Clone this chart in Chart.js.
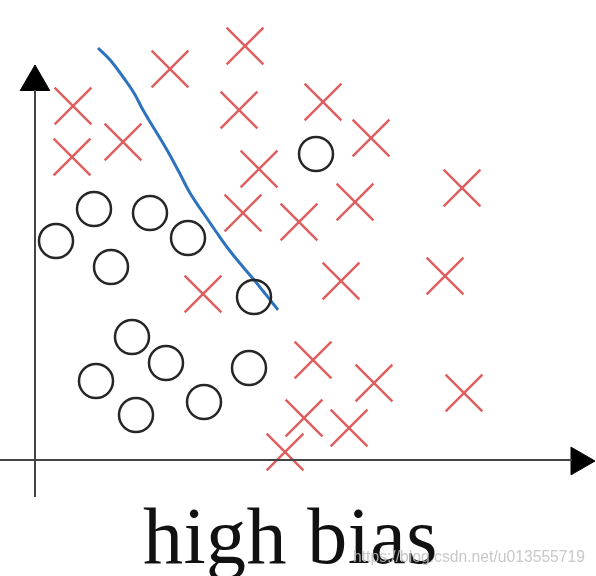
<!DOCTYPE html>
<html>
<head>
<meta charset="utf-8">
<script src="https://cdn.jsdelivr.net/npm/chart.js@4.4.0/dist/chart.umd.min.js"></script>
<style>
  html, body { margin: 0; padding: 0; background: #fff; }
  #wrap { position: relative; width: 596px; height: 576px; overflow: hidden; }
  #c { position: absolute; left: 0; top: 0; }
  #caption { position: absolute; left: 143px; top: 496px; font-family: "Liberation Serif", "DejaVu Serif", serif; font-size: 80px; line-height: 80px; color: #111; white-space: nowrap; letter-spacing: 0.4px; }
  #mark { position: absolute; left: 353px; top: 549px; font-family: "Liberation Sans", Arial, sans-serif; font-size: 15.7px; line-height: 15.7px; color: rgba(190,190,190,0.85); white-space: nowrap; }
</style>
</head>
<body>
<div id="wrap">
  <canvas id="c" width="596" height="576"></canvas>
  <div id="caption">high bias</div>
  <div id="mark">https://blog.csdn.net/u013555719</div>
</div>
<script>
// Positive class (red crosses)
const crossX = [73, 170, 245, 239, 323, 371, 123, 72, 259, 462, 355, 243, 299, 203, 341, 445, 313, 374, 464, 304, 349, 285];
const crossY = [106, 69, 46, 110, 102, 138, 142, 157, 169, 188, 202, 213, 222, 294, 281, 276, 360, 383, 393, 418, 428, 452];
// Negative class (black circles)
const circleX = [56, 94, 150, 188, 111, 254, 316, 132, 166, 96, 136, 204, 249];
const circleY = [241, 209, 213, 238, 267, 297, 154, 337, 363, 381, 415, 402, 368];
// Decision boundary (blue curve)
const curveX = [98, 111, 123, 134, 143, 155, 167, 179, 190, 204, 217, 230, 243, 255, 263, 271, 278];
const curveY = [48, 61, 77, 93, 110, 130, 150, 172, 193, 214, 233, 251, 267, 281, 291, 301, 310];
// Axes
const yAxisX = [35, 35];
const yAxisY = [90, 497];
const xAxisX = [0, 572];
const xAxisY = [460, 460];
const arrowUp = { x: 35, y: 82 };
const arrowRight = { x: 579, y: 461 };

const zip = (xs, ys) => xs.map((x, i) => ({ x, y: ys[i] }));

new Chart(document.getElementById('c'), {
  type: 'scatter',
  data: {
    datasets: [
      { data: zip(yAxisX, yAxisY), showLine: true, borderColor: '#444', borderWidth: 2, pointRadius: 0 },
      { data: zip(xAxisX, xAxisY), showLine: true, borderColor: '#444', borderWidth: 2, pointRadius: 0 },
      { data: [arrowUp], pointStyle: 'triangle', pointRadius: 17, rotation: 0, backgroundColor: '#000', borderColor: '#000', borderWidth: 1 },
      { data: [arrowRight], pointStyle: 'triangle', pointRadius: 16, rotation: 90, backgroundColor: '#000', borderColor: '#000', borderWidth: 1 },
      { data: zip(crossX, crossY), pointStyle: 'crossRot', pointRadius: 26, borderColor: '#de5f5f', borderWidth: 2.5, backgroundColor: 'transparent' },
      { data: zip(circleX, circleY), pointStyle: 'circle', pointRadius: 17, borderColor: '#262626', borderWidth: 2.5, backgroundColor: 'transparent' },
      { data: zip(curveX, curveY), showLine: true, tension: 0.4, borderColor: '#2d72bd', borderWidth: 3, pointRadius: 0 }
    ]
  },
  options: {
    responsive: false,
    animation: false,
    devicePixelRatio: 1,
    layout: { padding: 0, autoPadding: false },
    plugins: { legend: { display: false }, tooltip: { enabled: false }, title: { display: false } },
    scales: {
      x: { type: 'linear', min: 0, max: 596, display: false },
      y: { type: 'linear', min: 0, max: 576, reverse: true, display: false }
    },
    elements: { point: { hoverRadius: 0 } }
  }
});
</script>
</body>
</html>
